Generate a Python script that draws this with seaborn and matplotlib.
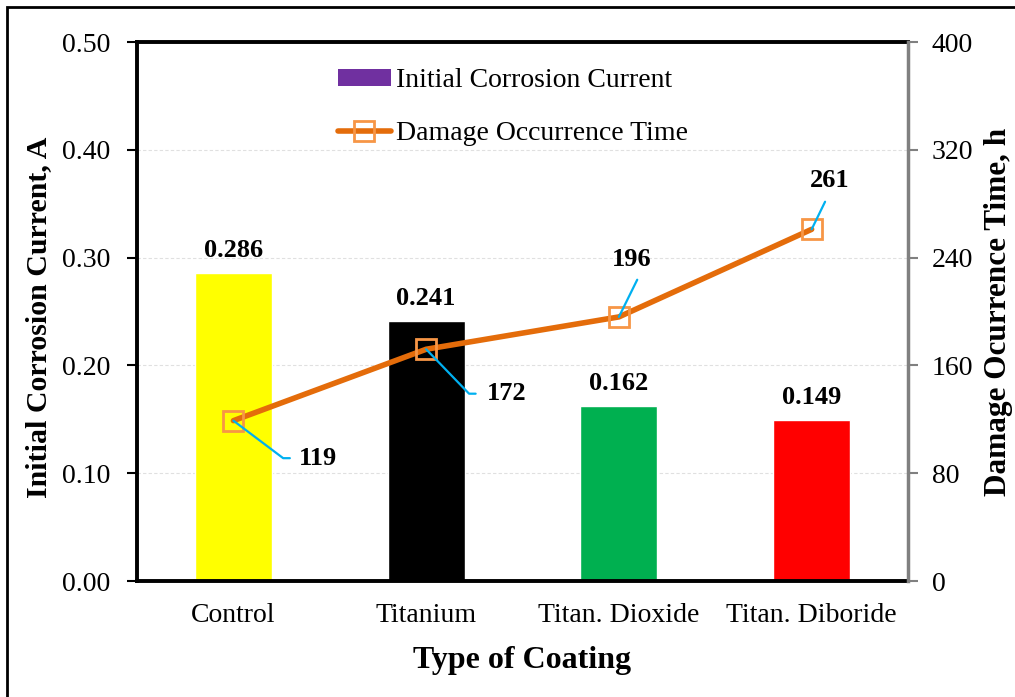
import numpy as np
import pandas as pd
import matplotlib
matplotlib.use("Agg")
import matplotlib.pyplot as plt
from matplotlib.patches import Patch, Rectangle
from matplotlib.lines import Line2D
import seaborn as sns

# data
coatings = ["Control", "Titanium", "Titan. Dioxide", "Titan. Diboride"]
current = [0.286, 0.241, 0.162, 0.149]
hours = [119, 172, 196, 261]
bar_colors = ["#FFFF00", "#000000", "#00B050", "#FF0000"]

df = pd.DataFrame({"coating": coatings, "current": current, "hours": hours})

sns.set_theme(style="white")
plt.rcParams["font.family"] = ["Liberation Serif", "DejaVu Serif"]
plt.rcParams["text.color"] = "black"
plt.rcParams["axes.labelcolor"] = "black"
plt.rcParams["xtick.color"] = "black"
plt.rcParams["ytick.color"] = "black"

fig = plt.figure(figsize=(10.15, 6.97), dpi=100)
ax = fig.add_axes([0.135, 0.1664, 0.7596, 0.7733])

sns.barplot(data=df, x="coating", y="current", hue="coating",
            palette=bar_colors, width=0.4, legend=False, ax=ax,
            saturation=1)
for c in ax.containers:
    ax.bar_label(c, fmt="%.3f", padding=8, fontsize=19, fontweight="bold")

ax.set_ylim(0, 0.5)
ax.set_yticks(np.arange(0, 0.51, 0.1))
ax.set_yticklabels([f"{v:.2f}" for v in np.arange(0, 0.51, 0.1)])
ax.set_xlim(-0.5, 3.5)
ax.yaxis.grid(True, color="#E0E0E0", linestyle=(0, (3, 2)), linewidth=0.8)
ax.set_axisbelow(True)
ax.tick_params(axis="y", direction="out", length=7, width=1.5, color="black",
               labelsize=20, pad=12, left=True)
ax.tick_params(axis="x", length=0, labelsize=20, pad=16)
ax.set_xlabel("Type of Coating", fontsize=23, fontweight="bold", labelpad=13)
ax.set_ylabel("Initial Corrosion Current, A", fontsize=21.5, fontweight="bold")
ax.yaxis.set_label_coords(-0.110, 0.49)
for s in ["left", "top", "bottom"]:
    ax.spines[s].set_color("black")
    ax.spines[s].set_linewidth(2.8)
ax.spines["right"].set_visible(False)

ax2 = ax.twinx()
sns.pointplot(data=df, x="coating", y="hours", ax=ax2, color="#E46C0A",
              markers="s", linestyles="-", linewidth=4,
              markersize=14, markerfacecolor="none",
              markeredgecolor="#F79646", markeredgewidth=2)
ax2.set_xlim(-0.5, 3.5)
ax2.set_ylim(0, 400)
ax2.set_yticks(np.arange(0, 401, 80))
ax2.set_ylabel("Damage Ocurrence Time, h", fontsize=22.5, fontweight="bold",
               labelpad=8)
ax2.set_xlabel("")
ax2.tick_params(axis="y", direction="out", length=7, width=1.5, color="#808080",
                labelsize=20, pad=10, right=True)
for s in ["left", "top", "bottom"]:
    ax2.spines[s].set_visible(False)
ax2.spines["right"].set_color("#808080")
ax2.spines["right"].set_linewidth(2.5)

# leader-line labels for the line series
lead = dict(arrowstyle="-", color="#00B0F0", lw=1.6, shrinkB=0)
ax2.annotate(str(hours[0]), xy=(0, hours[0]), xytext=(47, -27),
             textcoords="offset points", ha="left", va="center",
             fontsize=19, fontweight="bold",
             arrowprops=dict(lead, shrinkA=4, relpos=(0, 0.5),
                             connectionstyle="angle,angleA=0,angleB=-37,rad=0"))
ax2.annotate(str(hours[1]), xy=(1, hours[1]), xytext=(44, -32),
             textcoords="offset points", ha="left", va="center",
             fontsize=19, fontweight="bold",
             arrowprops=dict(lead, shrinkA=6, relpos=(0, 0.5),
                             connectionstyle="angle,angleA=0,angleB=-46,rad=0"))
ax2.annotate(str(hours[2]), xy=(2, hours[2]), xytext=(9, 41),
             textcoords="offset points", ha="center", va="center",
             fontsize=19, fontweight="bold",
             arrowprops=dict(lead, shrinkA=4, relpos=(0.75, 0)))
ax2.annotate(str(hours[3]), xy=(3, hours[3]), xytext=(13, 35),
             textcoords="offset points", ha="center", va="center",
             fontsize=19, fontweight="bold",
             arrowprops=dict(lead, shrinkA=5, relpos=(0.5, 0)))

handles = [Patch(facecolor="#7030A0", edgecolor="none"),
           Line2D([], [], color="#E46C0A", linewidth=4, marker="s",
                  markersize=14, markerfacecolor="none",
                  markeredgecolor="#F79646", markeredgewidth=2)]
fig.legend(handles, ["Initial Corrosion Current", "Damage Occurrence Time"],
           loc="upper left", bbox_to_anchor=(338 / 1015, 1 - 68 / 697),
           frameon=False, fontsize=20, handlelength=1.9, handleheight=0.55,
           handletextpad=0.2, labelspacing=1.0, borderpad=0, borderaxespad=0)

# outer border of the chart area
fig.patches.append(Rectangle((7 / 1015, -0.05), 1.1, 1 - 7 / 697 + 0.05,
                             transform=fig.transFigure, fill=False,
                             edgecolor="black", linewidth=2))

fig.savefig("out.png", dpi=100)
